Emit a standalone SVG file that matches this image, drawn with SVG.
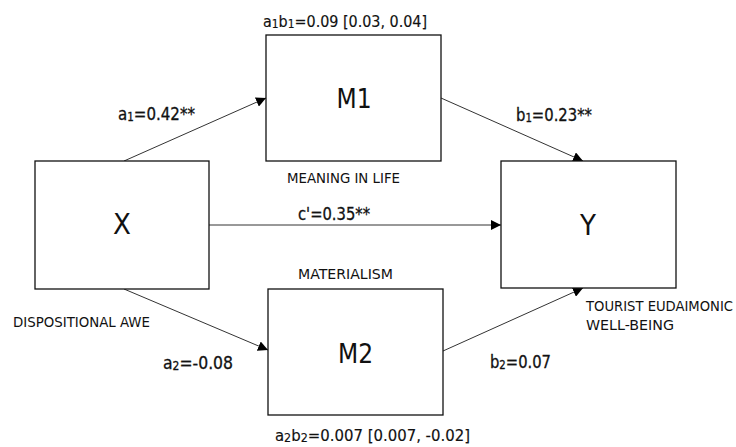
<svg xmlns="http://www.w3.org/2000/svg" width="736" height="447" viewBox="0 0 736 447">
  <defs>
    <marker id="arrow" viewBox="0 0 10 10" refX="10" refY="5" markerWidth="10" markerHeight="10" markerUnits="userSpaceOnUse" orient="auto">
      <path d="M0,0 L10,5 L0,10 Z" fill="#000"/>
    </marker>
  </defs>
  <style>
    .box { fill: #fff; stroke: #111; stroke-width: 1.3; }
    .edge { stroke: #333; stroke-width: 1; fill: none; marker-end: url(#arrow); }
    text { font-family: "DejaVu Sans Condensed", "DejaVu Sans", sans-serif; fill: #111; }
    .big { font-size: 29px; text-anchor: middle; }
    .mid { font-size: 26px; text-anchor: middle; }
    .coef { font-size: 17.5px; stroke: #111; stroke-width: 0.3; }
    .cap { font-size: 14px; }
    .sub { font-size: 12px; }
  </style>
  <rect width="736" height="447" fill="#fff"/>

  <g id="connectors">
    <line class="edge" x1="124" y1="161" x2="266" y2="98"/>
    <line class="edge" x1="441" y1="98" x2="583" y2="161"/>
    <line class="edge" x1="209" y1="225" x2="501" y2="225"/>
    <line class="edge" x1="124" y1="289" x2="268" y2="350"/>
    <line class="edge" x1="443" y1="351" x2="583" y2="288"/>
    <text class="coef" x="118" y="120" textLength="77" lengthAdjust="spacingAndGlyphs">a<tspan class="sub" dy="1">1</tspan><tspan dy="-1">=0.42**</tspan></text>
    <text class="coef" x="516" y="121" textLength="76" lengthAdjust="spacingAndGlyphs">b<tspan class="sub" dy="1">1</tspan><tspan dy="-1">=0.23**</tspan></text>
    <text class="coef" x="298" y="220" textLength="72" lengthAdjust="spacingAndGlyphs">c'=0.35**</text>
    <text class="coef" x="163" y="369" textLength="70" lengthAdjust="spacingAndGlyphs">a<tspan class="sub" dy="1">2</tspan><tspan dy="-1">=-0.08</tspan></text>
    <text class="coef" x="490" y="368" textLength="61" lengthAdjust="spacingAndGlyphs">b<tspan class="sub" dy="1">2</tspan><tspan dy="-1">=0.07</tspan></text>
  </g>

  <g id="node-x">
    <rect class="box" x="35" y="161" width="174" height="128"/>
    <text class="big" x="122" y="234">X</text>
    <text class="cap" x="13" y="327" textLength="137" lengthAdjust="spacingAndGlyphs">DISPOSITIONAL AWE</text>
  </g>

  <g id="node-m1">
    <rect class="box" x="266" y="35" width="175" height="126"/>
    <text class="mid" x="354" y="108">M1</text>
    <text class="coef" x="263" y="27" style="font-size:16px;stroke-width:0.15" textLength="164" lengthAdjust="spacingAndGlyphs">a<tspan class="sub" dy="1">1</tspan><tspan dy="-1">b</tspan><tspan class="sub" dy="1">1</tspan><tspan dy="-1">=0.09 [0.03, 0.04]</tspan></text>
    <text class="cap" x="287" y="183" textLength="113" lengthAdjust="spacingAndGlyphs">MEANING IN LIFE</text>
  </g>

  <g id="node-y">
    <rect class="box" x="501" y="161" width="175" height="127"/>
    <text class="big" x="588" y="235">Y</text>
    <text class="cap" x="586" y="311" textLength="147" lengthAdjust="spacingAndGlyphs">TOURIST EUDAIMONIC</text>
    <text class="cap" x="586" y="330" textLength="88" lengthAdjust="spacingAndGlyphs">WELL-BEING</text>
  </g>

  <g id="node-m2">
    <rect class="box" x="268" y="289" width="175" height="126"/>
    <text class="mid" x="355.5" y="363">M2</text>
    <text class="cap" x="298" y="279" textLength="95" lengthAdjust="spacingAndGlyphs">MATERIALISM</text>
    <text class="coef" x="275" y="441" style="font-size:16px;stroke-width:0.15" textLength="195" lengthAdjust="spacingAndGlyphs">a<tspan class="sub" dy="1">2</tspan><tspan dy="-1">b</tspan><tspan class="sub" dy="1">2</tspan><tspan dy="-1">=0.007 [0.007, -0.02]</tspan></text>
  </g>
</svg>
